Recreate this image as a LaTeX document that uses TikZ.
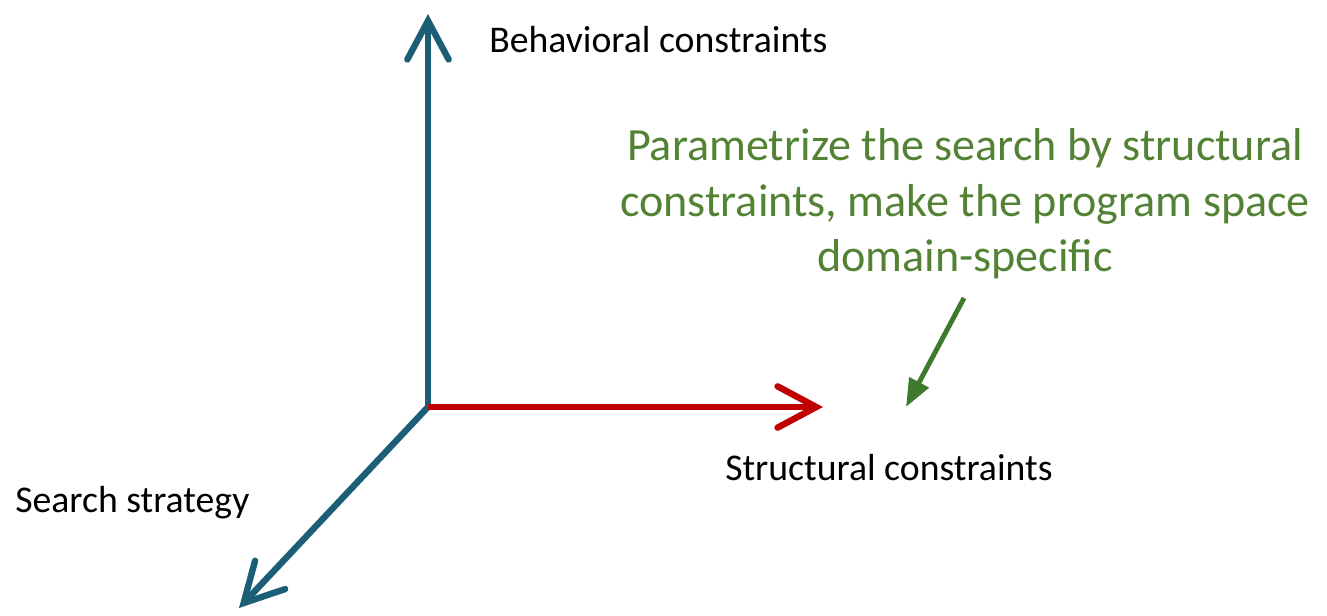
\documentclass[tikz,border=0pt]{standalone}
\usepackage{fontspec}
\setmainfont{Carlito}
\usepackage{tikz}
\usetikzlibrary{positioning,arrows.meta,calc}

\definecolor{axisblue}{RGB}{27,94,117}
\definecolor{axisred}{RGB}{192,0,0}
\definecolor{notegreen}{RGB}{84,130,53}
\definecolor{arrowgreen}{RGB}{62,122,46}

\begin{document}
\begin{tikzpicture}[x=0.75pt,y=-0.75pt,
  axis/.style={line width=4.8pt,-{Straight Barb[length=29pt,width=31pt,line width=4.8pt,line cap=round]}},
  label/.style={inner sep=0pt,font=\fontsize{28.3}{34}\selectfont},
  note/.style={inner sep=0pt,align=center,text=notegreen,font=\fontsize{34.6}{41.5}\selectfont}]

  \useasboundingbox (0,0) rectangle (1327,615);

  \coordinate (o) at (428,407);
  \coordinate (up) at (428,14);
  \coordinate (right) at (823,407);
  \coordinate (down) at (239,608);

  \node[label,anchor=west] (beh) at (489,40) {Behavioral constraints};
  \node[label,anchor=west] (str) at (725,468) {Structural constraints};
  \node[label,anchor=west] (sea) at (15,503) {Search strategy};
  \node[note] (n0) at (965,204) {Parametrize the search by structural\\constraints, make the program space\\domain-specific};

  \coordinate (g0) at (964,298);
  \coordinate (g1) at (906,407);

  \draw[axis,axisblue] (o) -- (up);
  \draw[axis,axisblue] (o) -- (down);
  \draw[axis,axisred] (o) -- (right);
  \draw[arrowgreen,line width=3.7pt,-{Triangle[length=21pt,width=16pt]}] (g0) -- (g1);

\end{tikzpicture}
\end{document}
